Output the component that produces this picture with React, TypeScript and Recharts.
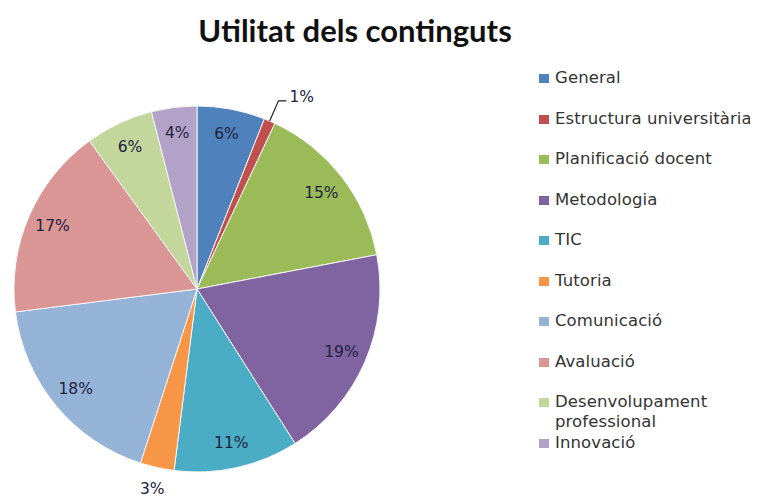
import { PieChart, Pie, Cell } from "recharts";

const categories = [
  "General",
  "Estructura universitària",
  "Planificació docent",
  "Metodologia",
  "TIC",
  "Tutoria",
  "Comunicació",
  "Avaluació",
  "Desenvolupament professional",
  "Innovació",
];

const values = [6, 1, 15, 19, 11, 3, 18, 17, 6, 4];

const colors = [
  "#4F81BD",
  "#C0504D",
  "#9BBB59",
  "#8064A2",
  "#4BACC6",
  "#F79646",
  "#95B3D7",
  "#D99694",
  "#C3D69B",
  "#B3A2C7",
];

const data = categories.map((name, i) => ({ name, value: values[i] }));

const RAD = Math.PI / 180;

function renderLabel(props: any) {
  const { cx, cy, midAngle, outerRadius, value, index } = props;
  const cos = Math.cos(midAngle * RAD);
  const sin = Math.sin(midAngle * RAD);
  const text = `${value}%`;
  const style = { fontFamily: "DejaVu Sans", fontSize: 15.5, fill: "#1f2240" };

  if (value <= 1) {
    // tiny slice: leader line out plus a short horizontal tail
    const x0 = cx + outerRadius * cos;
    const y0 = cy - outerRadius * sin;
    const x1 = cx + (outerRadius + 22) * cos;
    const y1 = cy - (outerRadius + 22) * sin;
    const x2 = x1 + 8;
    return (
      <g key={`lbl-${index}`}>
        <polyline points={`${x0},${y0} ${x1},${y1} ${x2},${y1}`} fill="none" stroke="#222" strokeWidth={1.2} />
        <text x={x2 + 3} y={y1 - 4} dominantBaseline="central" textAnchor="start" {...style}>
          {text}
        </text>
      </g>
    );
  }
  if (value <= 3) {
    const r = outerRadius + 22;
    return (
      <text key={`lbl-${index}`} x={cx + r * cos} y={cy - r * sin} dominantBaseline="central" textAnchor="middle" {...style}>
        {text}
      </text>
    );
  }
  const r = outerRadius * 0.86;
  return (
    <text key={`lbl-${index}`} x={cx + r * cos} y={cy - r * sin} dominantBaseline="central" textAnchor="middle" {...style}>
      {text}
    </text>
  );
}

function LegendList() {
  return (
    <div style={{ position: "absolute", left: 539, top: 68, width: 219 }}>
      {categories.map((c, i) => (
        <div key={c} style={{ height: 40.5, display: "flex", alignItems: "flex-start" }}>
          <span
            style={{
              display: "inline-block",
              width: 10,
              height: 9,
              background: colors[i],
              marginTop: 6,
              marginRight: 6,
              flexShrink: 0,
            }}
          />
          <span
            style={{
              fontFamily: "DejaVu Sans",
              fontSize: 16.5,
              letterSpacing: 0.1,
              lineHeight: "20px",
              color: "#333",
              whiteSpace: i === 1 ? "nowrap" : "normal",
            }}
          >
            {c}
          </span>
        </div>
      ))}
    </div>
  );
}

export default function App() {
  return (
    <div style={{ position: "relative", width: 758, height: 502, background: "#fff", marginLeft: -8, marginTop: -8, overflow: "hidden" }}>
      <div
        style={{
          position: "absolute",
          left: 0,
          width: 710,
          top: 12,
          textAlign: "center",
          fontFamily: "Lato",
          fontWeight: 700,
          fontSize: 31,
          lineHeight: "36px",
          color: "#111",
        }}
      >
        Utilitat dels continguts
      </div>
      <PieChart width={758} height={502} margin={{ top: 0, right: 0, bottom: 0, left: 0 }}>
        <Pie
          data={data}
          dataKey="value"
          nameKey="name"
          cx={197}
          cy={289}
          outerRadius={183}
          startAngle={90}
          endAngle={-270}
          stroke="#f4f4f4"
          strokeWidth={1}
          label={renderLabel}
          labelLine={false}
          isAnimationActive={false}
        >
          {data.map((d, i) => (
            <Cell key={d.name} fill={colors[i]} />
          ))}
        </Pie>
      </PieChart>
      <LegendList />
    </div>
  );
}
